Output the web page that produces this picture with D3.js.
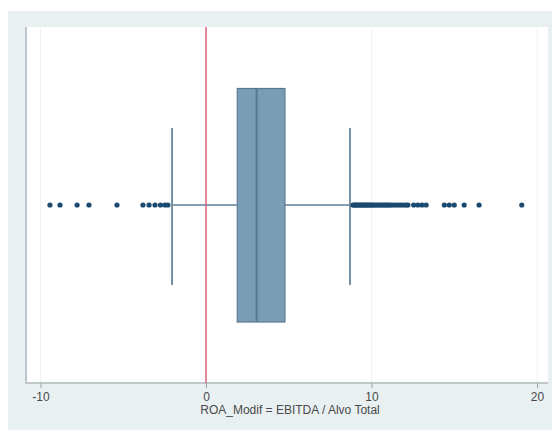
<!DOCTYPE html>
<html><head><meta charset="utf-8">
<script src="https://cdn.jsdelivr.net/npm/d3@7/dist/d3.min.js"></script>
<style>body{margin:0;background:#fff}svg{display:block}</style>
</head><body>
<script>
// Box summary (ROA_Modif)
const boxStats = {lowerWhisker: -2.05, q1: 1.89, median: 3.06, q3: 4.77, upperWhisker: 8.70};
const lowOutliers = [-9.43, -8.82, -7.79, -7.07, -5.38, -3.81, -3.44, -3.08, -2.75, -2.48, -2.3];
const highOutliers = [8.88, 8.95, 9.02, 9.1, 9.17, 9.25, 9.33, 9.4, 9.48, 9.55, 9.63, 9.7, 9.78, 9.86,
  9.94, 10.02, 10.1, 10.2, 10.3, 10.4, 10.5, 10.6, 10.7, 10.8, 10.9, 11.0, 11.1, 11.2, 11.35, 11.5,
  11.65, 11.8, 11.95, 12.1, 12.2, 12.55, 12.8, 13.05, 13.3, 14.4, 14.7, 15.0, 15.6, 16.5, 19.08];
const xTicks = [-10, 0, 10, 20];
const xTickLabels = ["-10", "0", "10", "20"];
const refLine = 0;
const xTitle = "ROA_Modif = EBITDA / Alvo Total";

const W = 552, H = 432;
const svg = d3.select("body").append("svg").attr("width", W).attr("height", H);

// graph region
svg.append("rect").attr("x", 8).attr("y", 11).attr("width", W - 8).attr("height", 419).attr("fill", "#e9f0f2");
// plot region
const plot = {left: 26, right: 548, top: 27, bottom: 383};
svg.append("rect").attr("x", plot.left).attr("y", plot.top)
  .attr("width", plot.right - plot.left).attr("height", plot.bottom - plot.top).attr("fill", "#ffffff");

const x = d3.scaleLinear().domain([-10, 20]).range([40.5, 537]);
const yc = 205;

// faint gridlines
svg.append("g").selectAll("line").data(xTicks).join("line")
  .attr("x1", d => x(d)).attr("x2", d => x(d)).attr("y1", plot.top).attr("y2", plot.bottom)
  .attr("stroke", "#f0f3f5").attr("stroke-width", 1.2);

// axes lines
svg.append("line").attr("x1", plot.left).attr("x2", plot.left).attr("y1", plot.top).attr("y2", plot.bottom + 1)
  .attr("stroke", "#bfc7cb").attr("stroke-width", 2);

const xAxis = d3.axisBottom(x).tickValues(xTicks).tickSize(5).tickPadding(4)
  .tickFormat((d, i) => xTickLabels[i]);
const gx = svg.append("g").attr("transform", `translate(0,${plot.bottom})`).call(xAxis);
gx.select(".domain").attr("d", `M${plot.left},0H${plot.right}`).attr("stroke", "#bfc7cb").attr("stroke-width", 2);
gx.selectAll(".tick line").attr("stroke", "#9aa3a8");
gx.selectAll(".tick text").attr("fill", "#4a4a4a").style("font-family", "Liberation Sans, Arial, sans-serif").style("font-size", "12px");

svg.append("text").attr("x", 290).attr("y", 414).attr("text-anchor", "middle")
  .style("font-family", "Liberation Sans, Arial, sans-serif").style("font-size", "12px").attr("fill", "#4a4a4a")
  .text(xTitle);

// whiskers
const capTop = 128, capBot = 285, boxTop = 88.5, boxBot = 322;
svg.append("line").attr("x1", x(boxStats.lowerWhisker)).attr("x2", x(boxStats.q1)).attr("y1", yc).attr("y2", yc)
  .attr("stroke", "#5e7f97").attr("stroke-width", 1.5);
svg.append("line").attr("x1", x(boxStats.q3)).attr("x2", x(boxStats.upperWhisker)).attr("y1", yc).attr("y2", yc)
  .attr("stroke", "#5e7f97").attr("stroke-width", 1.5);
svg.append("g").selectAll("line").data([boxStats.lowerWhisker, boxStats.upperWhisker]).join("line")
  .attr("x1", d => x(d)).attr("x2", d => x(d)).attr("y1", capTop).attr("y2", capBot)
  .attr("stroke", "#6a8699").attr("stroke-width", 1.8);

// reference line at 0
svg.append("line").attr("x1", x(refLine)).attr("x2", x(refLine)).attr("y1", plot.top).attr("y2", plot.bottom)
  .attr("stroke", "#dc5a78").attr("stroke-width", 1.4);

// box
svg.append("rect").attr("x", x(boxStats.q1)).attr("y", boxTop)
  .attr("width", x(boxStats.q3) - x(boxStats.q1)).attr("height", boxBot - boxTop)
  .attr("fill", "#7b9cb5").attr("stroke", "#557a96").attr("stroke-width", 1.2);
svg.append("line").attr("x1", x(boxStats.median)).attr("x2", x(boxStats.median)).attr("y1", boxTop).attr("y2", boxBot)
  .attr("stroke", "#557a96").attr("stroke-width", 2);

// outliers
svg.append("g").selectAll("circle").data(lowOutliers.concat(highOutliers)).join("circle")
  .attr("cx", d => x(d)).attr("cy", yc).attr("r", 2.6).attr("fill", "#1b4a70");
</script>
</body></html>
